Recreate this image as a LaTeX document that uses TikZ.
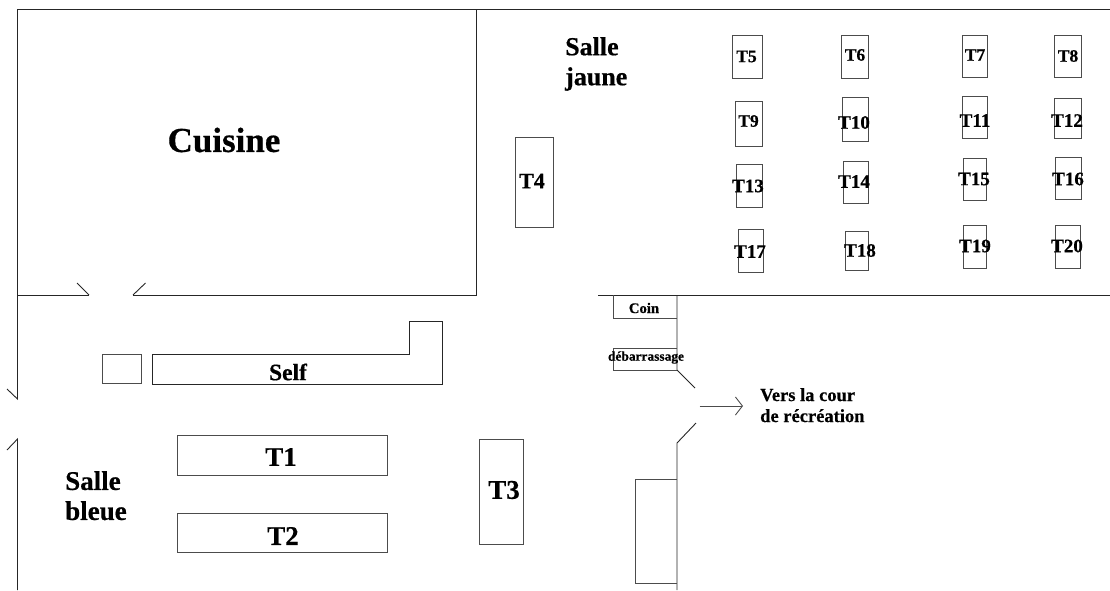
\documentclass[tikz,border=0pt]{standalone}
\usepackage{fontspec}
\setmainfont{Liberation Serif}[BoldFeatures = {FakeBold = 0.5}]
\usetikzlibrary{arrows.meta}

\tikzset{
    wall/.style = {draw = black!85, line width = 0.9pt},
    tablebox/.style = {draw = black!70, line width = 0.9pt},
    roomlabel/.style = {inner sep = 0pt, align = left, anchor = north west, text = black,
        font = \fontsize{27}{30}\selectfont\bfseries},
    tablelabel/.style = {inner sep = 0pt, text = black, font = \fontsize{19}{22}\selectfont\bfseries},
    smalllabel/.style = {tablelabel, font = \fontsize{17.5}{20}\selectfont\bfseries},
    midlabel/.style = {tablelabel, font = \fontsize{22}{24}\selectfont\bfseries},
    biglabel/.style = {tablelabel, font = \fontsize{27}{30}\selectfont\bfseries},
}

\begin{document}
\begin{tikzpicture}[x = 1pt, y = -1pt]
    \useasboundingbox (0,0) rectangle (1110,590);

    % doors
    \coordinate (kitchen door left) at (89,295);
    \coordinate (kitchen door right) at (133,295);
    \coordinate (west door top) at (17.5,399);
    \coordinate (west door bottom) at (17.5,439);
    \coordinate (yard door top) at (695,388);
    \coordinate (yard door bottom) at (696,423);
    \coordinate (yard from) at (699.5,406);
    \coordinate (yard to) at (743,406);

    % walls
    \draw[wall] (kitchen door left) -- (77,283);
    \draw[wall] (kitchen door right) -- (145.5,283);
    \draw[wall] (1110,9) -- (17.5,9) -- (17.5,295) -- (kitchen door left);
    \draw[wall] (kitchen door right) -- (476,295) -- (476,9);
    \draw[wall] (17.5,295) -- (west door top) -- (7,389);
    \draw[wall] (17.5,590) -- (west door bottom) -- (7,450);
    \draw[wall] (598,295) -- (1110,295);
    \draw[wall] (677,295) -- (677,370) -- (yard door top);
    \draw[wall] (677,590) -- (677,443) -- (yard door bottom);

    % counters
    \draw[tablebox] (102.5,354.5) rectangle (141.5,383);
    \draw[wall] (152,354.5) -- (409,354.5) -- (409,321.5) -- (442.5,321.5) -- (442.5,384) -- (152,384) -- cycle;
    \draw[tablebox] (613,295) -- (613,318) -- (677,318);
    \draw[tablebox] (677,348.5) -- (613,348.5) -- (613,370) -- (677,370);
    \draw[tablebox] (677,479) -- (635.5,479) -- (635.5,583) -- (677,583);

    % big tables
    \foreach \xa/\ya/\xb/\yb/\lx/\ly/\n/\lab in {
        177.5/435/387.5/475/281/457/1/biglabel,
        177.5/513.5/387.5/552/283/536/2/biglabel,
        479/439/523/544/504/490/3/biglabel,
        515/137/553/227/532/181/4/midlabel} {
        \draw[tablebox] (\xa,\ya) rectangle (\xb,\yb);
        \node[\lab] (t\n) at (\lx,\ly) {T\n};
    }

    % small tables
    \foreach \xa/\ya/\xb/\yb/\lx/\ly/\n/\lab in {
        732.5/35.5/762/78/746.5/56.5/5/smalllabel,
        841.5/35.5/868/78/855/55/6/smalllabel,
        962/35.5/987.5/77/975/55/7/smalllabel,
        1054.5/35.5/1081/77/1068/56/8/smalllabel,
        735.5/101/762.5/146.5/748.5/121/9/smalllabel,
        842.5/97.5/868/141.5/854/122.5/10/tablelabel,
        962.5/96.5/987.5/138/975/120.5/11/tablelabel,
        1054.5/98.5/1081/138.5/1067/120.5/12/tablelabel,
        736.5/164/762.5/207.5/748/186/13/tablelabel,
        843.5/161.5/868/203.5/854/181.5/14/tablelabel,
        963/158.5/986.5/200.5/974/179/15/tablelabel,
        1055.5/157.5/1081/199/1068/179/16/tablelabel,
        738.5/229.5/763.5/272/750/251.5/17/tablelabel,
        845/231.5/868/270/860/250.5/18/tablelabel,
        963/225.5/986.5/268.5/975/246/19/tablelabel,
        1055.5/225.5/1080.5/268.5/1067/246/20/tablelabel} {
        \draw[tablebox] (\xa,\ya) rectangle (\xb,\yb);
        \node[\lab] (t\n) at (\lx,\ly) {T\n};
    }

    % room names
    \node[tablelabel, font = \fontsize{35}{38}\selectfont\bfseries] (cuisine) at (224,140) {Cuisine};
    \node[roomlabel] (bleue) at (65,471) {Salle\\bleue};
    \node[roomlabel, font = \fontsize{26}{30}\selectfont\bfseries] (jaune) at (565,37) {Salle\\jaune};
    \node[tablelabel, font = \fontsize{23.5}{26}\selectfont\bfseries] (self) at (288,372) {Self};
    \node[tablelabel, font = \fontsize{14.7}{17}\selectfont\bfseries] (coin) at (644,308) {Coin};
    \node[tablelabel, font = \fontsize{13.4}{16}\selectfont\bfseries] (debarrassage) at (646,357.5) {débarrassage};
    \node[roomlabel, font = \fontsize{18.5}{21}\selectfont\bfseries] (cour) at (760,388) {Vers la cour\\de récréation};

    \draw[draw = black!70, line width = 0.9pt, -{Straight Barb[length = 7pt, width = 18pt]}] (yard from) -- (yard to);
\end{tikzpicture}
\end{document}
